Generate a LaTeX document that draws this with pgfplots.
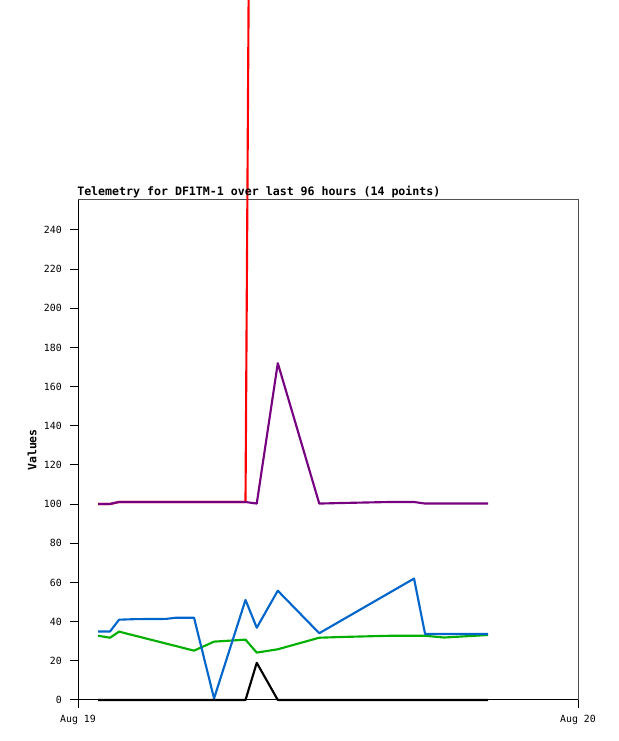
\documentclass[border=0pt]{standalone}
\usepackage{fontspec}
\setmainfont{DejaVu Sans Mono}
\usepackage{pgfplots}
\pgfplotsset{compat=1.18}

\definecolor{tred}{RGB}{255,0,0}
\definecolor{tpurple}{RGB}{118,0,128}
\definecolor{tblue}{RGB}{0,102,204}
\definecolor{tgreen}{RGB}{0,176,0}
\definecolor{frame}{RGB}{80,80,80}

\begin{document}
\begin{tikzpicture}[x=0.75pt,y=0.75pt]
  \useasboundingbox (0,0) rectangle (618,741);
  \clip (0,0) rectangle (618,741);
  \begin{axis}[
      at={(58.5pt,30.75pt)}, anchor=south west,
      scale only axis, width=375pt, height=375pt,
      xmin=0, xmax=24,
      ymin=0, ymax=255.3,
      clip=false,
      axis line style={frame, line width=0.75pt},
      tick pos=left,
      tick align=outside,
      major tick length=6pt,
      tick style={black, line width=0.75pt},
      xtick={0,24},
      xticklabels={Aug 19, Aug 20},
      ytick={0,20,...,240},
      /pgf/number format/assume math mode=true,
      ticklabel style={font=\fontsize{7.4}{9}\selectfont},
      yticklabel style={inner sep=0pt, xshift=-6pt},
      xticklabel style={inner sep=0pt, yshift=-5pt},
      ylabel={Values},
      ylabel style={font=\bfseries\fontsize{8.6}{10}\selectfont,
        at={(axis description cs:-0.092,0.5)}, anchor=center, inner sep=0pt},
      every axis plot/.append style={line width=1.6pt, line join=round},
    ]

    % left and bottom edges are black, top and right grey
    \draw[black, line width=0.75pt] (rel axis cs:0,1) -- (rel axis cs:0,0) -- (rel axis cs:1,0);

    % red: sits under purple, then shoots far above the plot
    \addplot[tred] coordinates {
      (0.96,100.1) (1.54,100.1) (1.97,101.1) (8.04,101.1)
      (8.58,1030) (11.58,1030) (19.68,1030)
    };

    \addplot[tpurple] coordinates {
      (0.96,100.1) (1.54,100.1) (1.97,101.1) (8.04,101.1)
      (8.58,100.3) (9.59,172.0) (11.58,100.3) (12.72,100.6)
      (14.98,101.1) (16.13,101.1) (16.66,100.3) (19.68,100.3)
    };

    \addplot[tgreen] coordinates {
      (0.96,32.8) (1.54,31.8) (1.97,34.9) (5.57,25.2)
      (6.53,29.8) (8.04,30.8) (8.58,24.2) (9.59,25.9)
      (11.58,31.8) (12.72,32.2) (14.98,32.8) (16.66,32.8)
      (17.57,31.9) (19.68,33.2)
    };

    \addplot[tblue] coordinates {
      (0.96,35.0) (1.54,35.0) (1.97,41.0) (2.78,41.3)
      (4.22,41.4) (4.70,42.0) (5.57,42.0) (6.53,0.8)
      (8.04,51.1) (8.58,36.9) (9.59,55.8) (11.58,34.1)
      (16.13,62.0) (16.66,33.7) (19.68,33.7)
    };

    \addplot[black] coordinates {
      (0.96,0) (8.04,0) (8.58,19.0) (9.59,0) (19.68,0)
    };

    \node[anchor=base west, xshift=-0.75pt, yshift=3pt, inner sep=0pt,
      font=\bfseries\fontsize{8.7}{10}\selectfont]
      at (rel axis cs:0,1) {Telemetry for DF1TM-1 over last 96 hours (14 points)};
  \end{axis}
\end{tikzpicture}
\end{document}
